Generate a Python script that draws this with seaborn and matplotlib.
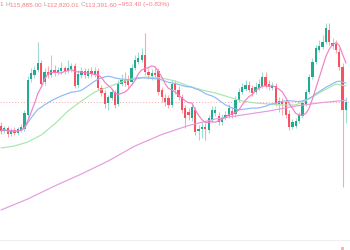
import matplotlib
matplotlib.use("Agg")
import matplotlib.pyplot as plt
import seaborn as sns
import numpy as np
import pandas as pd

# ---- candle data (chart price units) ----
opens = [124, 119, 122, 116, 120, 117, 120, 121, 135, 171, 175, 180, 187, 168, 178, 175, 180, 177, 179, 182,
         179, 181, 184, 165, 175, 179, 174, 179, 175, 179, 162, 157, 147, 152, 158, 146, 166, 170, 171, 168,
         182, 188, 190, 195, 178, 174, 177, 179, 160, 152, 152, 145, 166, 160, 153, 142, 138, 132, 140, 119,
         121, 123, 120, 130, 137, 134, 128, 132, 134, 139, 136, 150, 158, 161, 165, 162, 158, 162, 164, 173,
         166, 162, 164, 146, 149, 148, 136, 123, 124, 129, 134, 146, 158, 173, 188, 200, 203, 208, 220, 204,
         206, 198, 183, 140]
closes = [119, 122, 116, 120, 117, 121, 123, 137, 170, 177, 180, 187, 166, 178, 175, 180, 177, 180, 182, 179,
          182, 184, 164, 176, 179, 175, 179, 176, 179, 162, 157, 146, 153, 158, 145, 167, 170, 167, 165, 182,
          190, 192, 195, 178, 175, 177, 175, 158, 153, 148, 145, 166, 160, 153, 140, 132, 135, 143, 118, 121,
          123, 121, 132, 140, 140, 128, 132, 135, 142, 135, 150, 158, 163, 165, 160, 157, 163, 166, 173, 164,
          163, 164, 147, 149, 146, 135, 123, 128, 129, 135, 147, 158, 173, 188, 202, 204, 208, 222, 208, 207,
          200, 183, 140, 148.5]
highs = [128, 124, 124, 122, 123, 123, 126, 140, 174, 182, 184, 208, 190, 182, 184, 195, 185, 183, 188, 184,
         190, 187, 187, 180, 183, 182, 182, 183, 183, 182, 165, 160, 155, 161, 160, 170, 176, 178, 175, 186,
         195, 198, 202, 217, 182, 181, 182, 182, 163, 156, 155, 170, 170, 164, 156, 145, 142, 147, 143, 125,
         128, 127, 135, 144, 144, 138, 136, 139, 146, 143, 154, 162, 167, 170, 169, 165, 168, 171, 178, 178,
         170, 168, 167, 153, 152, 151, 140, 131, 132, 138, 150, 161, 176, 192, 205, 210, 215, 227, 227, 212,
         210, 202, 187, 153]
lows = [116, 117, 113, 114, 115, 115, 118, 119, 133, 168, 172, 178, 163, 165, 172, 173, 174, 175, 176, 176,
        177, 178, 162, 162, 172, 172, 172, 173, 173, 160, 154, 142, 140, 150, 142, 144, 164, 164, 162, 165,
        180, 186, 188, 175, 171, 170, 172, 155, 148, 144, 142, 143, 156, 150, 137, 122, 130, 129, 115, 110,
        112, 110, 117, 128, 134, 125, 125, 130, 132, 132, 133, 148, 156, 159, 158, 154, 156, 160, 162, 162,
        160, 160, 144, 138, 135, 132, 120, 121, 122, 127, 132, 144, 156, 171, 186, 198, 201, 206, 205, 201,
        197, 180, 63, 127]

# slow moving averages (candle index, value)
ma50_idx = [0, 4, 8, 12, 16, 20, 24, 28, 32, 36, 40, 44, 48, 52, 56, 60, 64, 68, 72, 76, 80, 84, 88, 92, 96, 100, 103]
ma50_val = [102, 104, 108, 115, 126, 139, 149, 158, 163, 168, 172, 173, 172, 169, 164, 160, 157, 153, 149, 147,
            146, 145, 145, 151, 159, 166, 164]
ma200_idx = [0, 8, 16, 24, 32, 40, 48, 56, 64, 72, 80, 88, 96, 103]
ma200_val = [40, 51, 64, 76, 89, 104, 115.5, 124.5, 131, 135, 139, 144, 147.5, 149.7]

header = [("1 ", "val"), ("H", "lab"), ("115,885.00 ", "val"), ("L", "lab"), ("112,820.01 ", "val"),
          ("C", "lab"), ("113,391.60 ", "val"), ("\u2212953.40 (\u22120.83%)", "val")]

# ---- style ----
sns.set_theme(style="white")
plt.rcParams['font.family'] = ['Liberation Sans', 'DejaVu Sans']

GREEN = '#22ab94'
RED = '#f7525f'
GREEN_W = '#9fdccf'
RED_W = '#f9a9af'
PINK = '#f47fc8'
BLUE = '#8fbaf5'
LGREEN = '#a8e6b0'
MA200C = '#e59be0'

fig = plt.figure(figsize=(3.5, 2.5), dpi=100)
ax = fig.add_axes([0, 0, 1, 1])
fig.patch.set_facecolor('white')

df = pd.DataFrame(dict(i=np.arange(len(opens)), o=opens, c=closes, h=highs, l=lows))
up = (df.c >= df.o).to_numpy()

# faint pane separator and last-price dotted line
ax.axhline(10, color='#efeff2', lw=0.8, zorder=1)
ax.axhline(closes[-1], color='#f7a7ad', lw=0.7, ls=(0, (1, 2)), zorder=1)

# wicks
ax.vlines(df.i, df.l, df.h, colors=np.where(up, GREEN_W, RED_W), lw=0.8, zorder=2)
# bodies
body = np.maximum((df.c - df.o).abs().to_numpy(), 1.2)
bottom = np.minimum(df.o, df.c).to_numpy()
ax.bar(df.i, body, bottom=bottom, width=0.68, color=np.where(up, GREEN, RED), linewidth=0, zorder=3)

# moving averages
ma_fast = df.c.rolling(7, min_periods=1).mean()
ma_mid = df.c.rolling(25, min_periods=1).mean()
sns.lineplot(x=ma200_idx, y=ma200_val, ax=ax, color=MA200C, lw=0.85, zorder=4)
sns.lineplot(x=ma50_idx, y=ma50_val, ax=ax, color=LGREEN, lw=0.85, zorder=4)
sns.lineplot(x=df.i, y=ma_mid, ax=ax, color=BLUE, lw=0.85, zorder=5)
sns.lineplot(x=df.i, y=ma_fast, ax=ax, color=PINK, lw=0.85, zorder=6)

# tiny price-label remnant at bottom right
ax.bar([102], [3], bottom=0, width=1.0, color='#f9b3b8', linewidth=0, zorder=3)

ax.set_xlim(-0.3, 104.2)
ax.set_ylim(0, 250)
ax.axis('off')

# header text
fig.canvas.draw()
r = fig.canvas.get_renderer()
xpx = 0.0
for s, kind in header:
    t = fig.text(xpx / 350, 1 - 4.8 / 250, s, color='#f47d86' if kind == 'val' else '#a3a6af',
                 fontsize=4.6, va='center', ha='left')
    xpx += t.get_window_extent(renderer=r).width

fig.savefig('out.png', dpi=100, facecolor='white')
